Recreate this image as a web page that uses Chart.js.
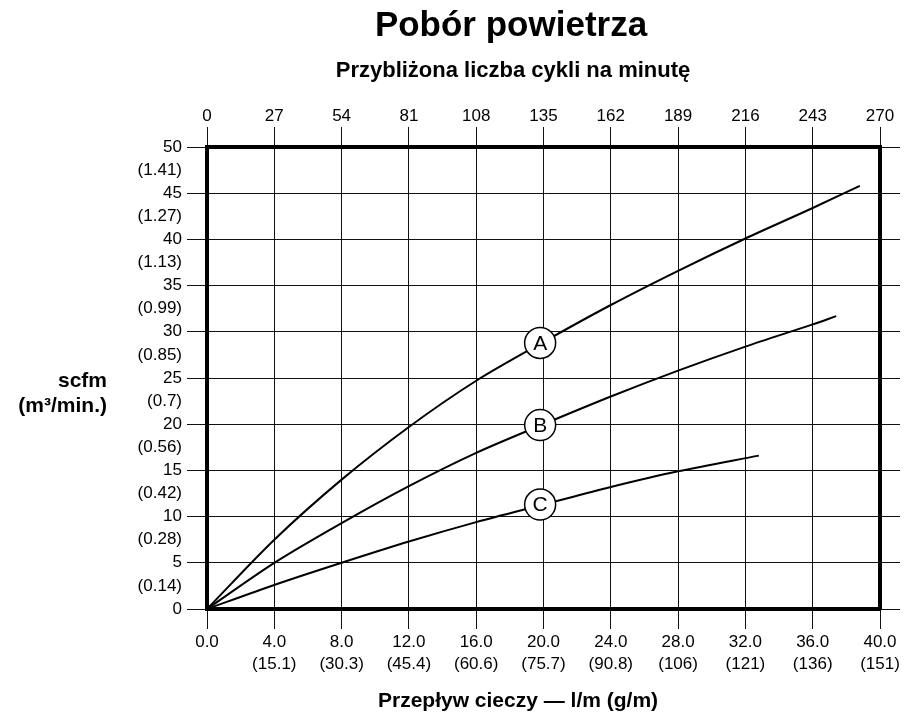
<!DOCTYPE html>
<html>
<head>
<meta charset="utf-8">
<script src="https://cdn.jsdelivr.net/npm/chart.js@4"></script>
<style>
  body { margin: 0; background: #fff; }
  canvas { display: block; }
</style>
</head>
<body>
<canvas id="airChart" width="915" height="727"></canvas>
<script>
// tick labels
const flowGpmTicks = ['0.0', '4.0', '8.0', '12.0', '16.0', '20.0', '24.0', '28.0', '32.0', '36.0', '40.0'];
const flowLpmTicks = ['', '(15.1)', '(30.3)', '(45.4)', '(60.6)', '(75.7)', '(90.8)', '(106)', '(121)', '(136)', '(151)'];
const cycleTicks = [0, 27, 54, 81, 108, 135, 162, 189, 216, 243, 270];
const scfmTicks = [0, 5, 10, 15, 20, 25, 30, 35, 40, 45, 50];
const m3Ticks = ['(0.14)', '(0.28)', '(0.42)', '(0.56)', '(0.7)', '(0.85)', '(0.99)', '(1.13)', '(1.27)', '(1.41)'];

// curves: [gpm, scfm]
const curveA = [[0, 0], [4, 7.5], [8, 14.0], [12, 19.7], [16, 24.7], [20, 28.9], [24, 32.9], [28, 36.6], [32, 40.1], [36, 43.4], [38.8, 45.8]];
const curveB = [[0, 0], [4, 5.0], [8, 9.3], [12, 13.3], [16, 16.9], [20, 20.0], [24, 23.0], [28, 25.8], [32, 28.4], [36, 30.8], [37.4, 31.7]];
const curveC = [[0, 0], [4, 2.6], [8, 5.0], [12, 7.3], [16, 9.4], [20, 11.3], [24, 13.2], [28, 14.9], [32.8, 16.6]];

// curve markers
const markerNames = ['A', 'B', 'C'];
const markerX = [19.8, 19.8, 19.8];
const markerY = [28.8, 19.9, 11.3];

const FONT = '"Liberation Sans", Arial, sans-serif';
const toPoints = arr => arr.map(p => ({ x: p[0], y: p[1] }));

const curveStyle = {
    showLine: true,
    borderColor: '#000',
    borderWidth: 2,
    pointRadius: 0,
    tension: 0.3,
    xAxisID: 'x',
    yAxisID: 'y'
};

// titles and marker letters
const textPlugin = {
    id: 'texts',
    afterDatasetsDraw(chart) {
        const ctx = chart.ctx;
        const meta = chart.getDatasetMeta(0);
        ctx.save();
        ctx.fillStyle = '#000';
        ctx.textAlign = 'center';
        ctx.textBaseline = 'middle';
        ctx.font = '21px ' + FONT;
        meta.data.forEach((pt, i) => {
            ctx.fillText(markerNames[i], pt.x, pt.y + 1);
        });
        ctx.restore();
    },
    afterDraw(chart) {
        const ctx = chart.ctx;
        ctx.save();
        ctx.fillStyle = '#000';
        ctx.textAlign = 'center';
        ctx.textBaseline = 'alphabetic';
        ctx.font = 'bold 35px ' + FONT;
        ctx.fillText('Pobór powietrza', 511, 36);
        ctx.font = 'bold 22px ' + FONT;
        ctx.fillText('Przybliżona liczba cykli na minutę', 513, 77);
        ctx.textBaseline = 'middle';
        ctx.font = 'bold 21px ' + FONT;
        ctx.fillText('Przepływ cieczy — l/m (g/m)', 518, 701);
        ctx.textAlign = 'right';
        ctx.fillText('scfm', 107, 381);
        ctx.fillText('(m³/min.)', 107, 406);
        ctx.restore();
    }
};

const tickFont = { family: FONT, size: 17 };
const borderStyle = { display: true, color: '#000', width: 4 };

new Chart(document.getElementById('airChart'), {
    type: 'scatter',
    data: {
        datasets: [
            {
                data: markerX.map((x, i) => ({ x: x, y: markerY[i] })),
                pointRadius: 15.5,
                pointBackgroundColor: '#fff',
                pointBorderColor: '#000',
                pointBorderWidth: 1.5,
                showLine: false,
                xAxisID: 'x',
                yAxisID: 'y'
            },
            Object.assign({ data: toPoints(curveA) }, curveStyle),
            Object.assign({ data: toPoints(curveB) }, curveStyle),
            Object.assign({ data: toPoints(curveC) }, curveStyle)
        ]
    },
    options: {
        responsive: false,
        animation: false,
        layout: { padding: { left: 127, right: 15, top: 100, bottom: 48 } },
        plugins: {
            legend: { display: false },
            tooltip: { enabled: false }
        },
        scales: {
            x: {
                type: 'linear',
                position: 'bottom',
                min: 0,
                max: 40,
                afterFit: s => { s.height = 70; },
                grid: { color: '#111', lineWidth: 1, tickLength: 20 },
                border: borderStyle,
                ticks: {
                    stepSize: 4,
                    autoSkip: false,
                    maxRotation: 0,
                    padding: 2,
                    color: '#000',
                    font: Object.assign({ lineHeight: 1.3 }, tickFont),
                    callback: (v, i) => i === 0 ? flowGpmTicks[0] : [flowGpmTicks[i], flowLpmTicks[i]]
                }
            },
            x2: {
                type: 'linear',
                position: 'top',
                min: 0,
                max: 270,
                afterFit: s => { s.height = 47; },
                grid: { drawOnChartArea: false, color: '#111', tickLength: 20 },
                border: borderStyle,
                ticks: {
                    stepSize: 27,
                    autoSkip: false,
                    maxRotation: 0,
                    padding: 0,
                    color: '#000',
                    font: tickFont,
                    callback: (v, i) => cycleTicks[i]
                }
            },
            y: {
                type: 'linear',
                position: 'left',
                min: 0,
                max: 50,
                afterFit: s => { s.width = 80; },
                grid: {
                    color: c => c.index % 2 === 0 ? '#111' : 'rgba(0,0,0,0)',
                    lineWidth: 1,
                    tickLength: 20
                },
                border: borderStyle,
                ticks: {
                    stepSize: 2.5,
                    autoSkip: false,
                    padding: 5,
                    color: '#000',
                    font: tickFont,
                    callback: (v, i) => i % 2 === 0 ? scfmTicks[i / 2] : m3Ticks[(i - 1) / 2]
                }
            },
            y2: {
                type: 'linear',
                position: 'right',
                min: 0,
                max: 50,
                afterFit: s => { s.width = 20; },
                grid: { drawOnChartArea: false, color: '#111', tickLength: 20 },
                border: borderStyle,
                ticks: { stepSize: 5, display: false }
            }
        }
    },
    plugins: [textPlugin]
});
</script>
</body>
</html>
